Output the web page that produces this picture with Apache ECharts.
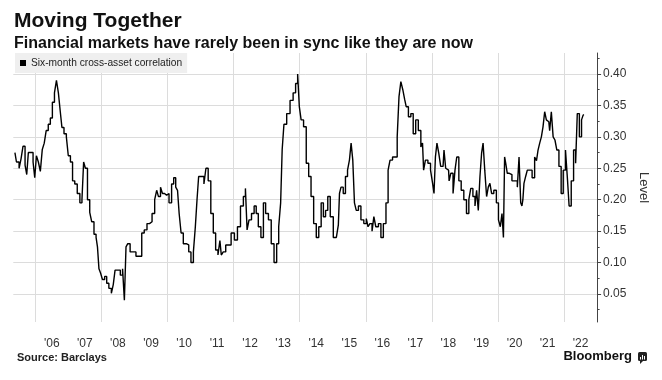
<!DOCTYPE html>
<html><head><meta charset="utf-8">
<script src="https://cdn.jsdelivr.net/npm/echarts@6/dist/echarts.min.js"></script>
<style>html,body{margin:0;padding:0;background:#fff}#c{width:662px;height:380px}</style>
</head><body><div id="c"></div>
<script>
const seriesName = 'Six-month cross-asset correlation';
const titleText = 'Moving Together';
const subtitleText = 'Financial markets have rarely been in sync like they are now';
const sourceText = 'Source: Barclays';
const yearLabels = ["'06","'07","'08","'09","'10","'11","'12","'13","'14","'15","'16","'17","'18","'19","'20","'21","'22"];
const firstLabelYear = 2006;
const yTicks = [0.05,0.10,0.15,0.20,0.25,0.30,0.35,0.40];
const yMinorTicks = [0.025,0.075,0.125,0.175,0.225,0.275,0.325,0.375,0.425];
const axisStart = [2005, 5], axisEnd = [2023, 1];

const dates = [
'2005-05-19','2005-06-22','2005-07-16','2005-08-04','2005-08-28','2005-09-19','2005-10-04','2005-10-25','2005-11-25','2005-12-16',
'2006-01-01','2006-01-22','2006-02-13','2006-03-07','2006-03-28','2006-04-19','2006-05-10','2006-06-04','2006-06-25','2006-07-19','2006-08-10','2006-09-01','2006-09-22','2006-10-13','2006-10-28','2006-11-28','2006-12-19',
'2007-01-10','2007-02-04','2007-02-26','2007-03-25','2007-04-22','2007-05-22','2007-06-07','2007-06-28','2007-07-16','2007-08-13','2007-09-04','2007-09-25','2007-10-25','2007-11-10','2007-11-25','2007-12-13',
'2008-01-01','2008-01-22','2008-02-19','2008-03-07','2008-04-07','2008-05-01','2008-05-19','2008-06-10','2008-07-13','2008-08-10','2008-09-01','2008-09-19','2008-10-07','2008-10-28','2008-11-28','2008-12-28',
'2009-02-04','2009-03-10','2009-04-01','2009-05-04','2009-06-01','2009-06-28','2009-07-28','2009-08-25','2009-09-10','2009-10-04','2009-10-25','2009-11-16','2009-12-10',
'2010-01-01','2010-02-01','2010-02-27','2010-03-19','2010-04-13','2010-04-28','2010-05-19','2010-06-10','2010-07-07','2010-08-13','2010-09-01','2010-10-01','2010-10-25','2010-11-13','2010-12-01','2010-12-19',
'2011-01-25','2011-02-19','2011-03-10','2011-04-10','2011-05-07','2011-06-04','2011-06-28','2011-07-25','2011-08-10','2011-08-25','2011-09-22','2011-10-19','2011-11-16','2011-12-22',
'2012-01-28','2012-02-27','2012-04-04','2012-05-01','2012-05-19','2012-06-07','2012-07-01','2012-08-01','2012-08-28','2012-09-16','2012-10-13','2012-11-13','2012-12-07',
'2013-01-01','2013-02-07','2013-03-04','2013-04-10','2013-05-01','2013-05-25','2013-06-13','2013-06-28','2013-07-22','2013-08-28','2013-10-04','2013-11-04','2013-11-28','2013-12-19',
'2014-01-04','2014-01-28','2014-02-27','2014-03-28','2014-04-22','2014-05-19','2014-06-19','2014-07-16','2014-08-13','2014-09-07','2014-10-01','2014-10-25','2014-11-19','2014-12-19',
'2015-01-25','2015-02-25','2015-03-10','2015-03-22','2015-04-13','2015-05-10','2015-06-01','2015-06-25','2015-07-13','2015-08-01','2015-08-19','2015-09-07','2015-09-28','2015-10-25','2015-11-22','2015-12-28',
'2016-01-16','2016-02-04','2016-02-27','2016-03-22','2016-04-07','2016-05-04','2016-06-04','2016-06-28','2016-07-28','2016-08-25','2016-09-13','2016-10-07','2016-11-07','2016-12-04','2016-12-22',
'2017-01-13','2017-02-01','2017-02-25','2017-03-13','2017-04-01','2017-05-01','2017-05-25','2017-06-22','2017-07-19','2017-08-19','2017-09-13','2017-09-25','2017-10-07','2017-11-04','2017-12-01',
'2018-01-01','2018-01-16','2018-02-01','2018-02-16','2018-03-07','2018-03-28','2018-04-19','2018-05-04','2018-05-25','2018-06-10','2018-07-04','2018-07-16','2018-08-10','2018-09-04','2018-09-22','2018-10-13','2018-11-07','2018-12-04',
'2019-01-04','2019-02-01','2019-02-25','2019-03-16','2019-04-13','2019-05-01','2019-05-19','2019-06-07','2019-06-25','2019-07-13','2019-07-28','2019-08-19','2019-09-07','2019-09-25','2019-10-13','2019-11-01','2019-12-01','2019-12-28',
'2020-01-16','2020-02-07','2020-02-22','2020-03-10','2020-03-19','2020-04-04','2020-04-22','2020-05-19','2020-06-19','2020-07-25','2020-08-10','2020-09-01','2020-09-16','2020-09-28','2020-10-07','2020-10-22','2020-11-13','2020-11-28','2020-12-28',
'2021-01-28','2021-02-22','2021-03-10','2021-03-28','2021-04-16','2021-05-04','2021-05-22','2021-06-10','2021-06-28','2021-07-16','2021-08-04','2021-08-22','2021-09-13','2021-10-01','2021-10-25','2021-11-16','2021-12-13',
'2022-01-01','2022-02-01','2022-02-16','2022-03-07','2022-04-04','2022-04-28','2022-05-19','2022-06-04','2022-07-04','2022-07-22','2022-08-10'
];
const values = [
.275,.26,.25,.265,.285,.255,.24,.275,.275,.26,
.235,.27,.26,.245,.28,.29,.31,.32,.33,.355,.37,.39,.37,.34,.315,.305,.30,
.27,.26,.23,.225,.21,.195,.20,.26,.25,.20,.18,.165,.145,.14,.125,.09,
.083,.073,.078,.067,.059,.051,.065,.088,.088,.08,.09,.04,.125,.13,.117,.117,
.11,.11,.147,.152,.162,.165,.178,.20,.215,.205,.22,.21,.207,
.21,.195,.225,.235,.22,.215,.178,.147,.13,.128,.117,.10,.117,.157,.20,.237,
.237,.225,.25,.23,.178,.147,.12,.112,.135,.112,.117,.128,.128,.147,
.136,.157,.19,.205,.218,.152,.168,.178,.19,.178,.157,.14,.195,
.178,.168,.13,.10,.13,.157,.195,.28,.32,.337,.358,.37,.385,.40,
.348,.327,.316,.258,.237,.205,.162,.14,.157,.195,.173,.183,.205,.173,
.14,.14,.16,.21,.22,.21,.237,.247,.263,.29,.263,.195,.183,.19,.168,.162,
.17,.157,.162,.15,.173,.157,.162,.14,.162,.195,.247,.263,.268,.268,.30,
.364,.388,.375,.36,.348,.332,.337,.305,.327,.31,.284,.29,.247,.263,.258,
.247,.226,.21,.268,.29,.274,.253,.253,.279,.25,.247,.23,.242,.21,.247,.268,.23,.215,
.20,.178,.20,.218,.205,.19,.215,.183,.237,.274,.29,.247,.205,.22,.226,.21,.215,.195,
.168,.157,.178,.14,.268,.258,.242,.24,.23,.23,.22,.268,.195,.19,.20,.226,.237,.247,.247,
.235,.268,.262,.279,.29,.30,.316,.34,.327,.324,.31,.34,.30,.295,.279,.253,.21,
.247,.279,.23,.19,.23,.279,.258,.337,.30,.327,.335
];

// monthly categories spanning the axis
const months = [];
for (let y = axisStart[0], m = axisStart[1]; y < axisEnd[0] || (y === axisEnd[0] && m <= axisEnd[1]); ) {
  months.push(y + '-' + String(m).padStart(2, '0'));
  m++; if (m > 12) { m = 1; y++; }
}
const pad2 = n => String(n).padStart(2, '0');
const tMin = axisStart[0] + '-' + pad2(axisStart[1]) + '-01';
const tMax = axisEnd[0] + '-' + pad2(axisEnd[1]) + '-01';

// layout
const L = 13.3, R = 662 - 597.1;
const plotTop = 53, plotBottom = 322;
const yA0 = 0, yA1 = 0.45;
const pxPerUnit = (294 - 74) / (0.40 - 0.05);
const gridATop = 74 - (yA1 - 0.40) * pxPerUnit;
const gridABottom = 294 + (0.05 - yA0) * pxPerUnit;
const yBMin = (gridABottom - plotBottom) / pxPerUnit;
const yBMax = yA1 - (plotTop - gridATop) / pxPerUnit;

const FONT = 'Liberation Sans, Arial, sans-serif';
const gridColor = '#dcdcdc';

const chart = echarts.init(document.getElementById('c'), null, {renderer: 'canvas'});
const splitColors = [];
for (let v = 0; v <= 9; v++) splitColors.push(v === 0 || v === 9 ? 'rgba(0,0,0,0)' : gridColor);

chart.setOption({
  animation: false,
  backgroundColor: '#fff',
  textStyle: {fontFamily: FONT},
  title: [
    {text: titleText, left: 14, top: 11, padding: 0, textStyle: {fontSize: 21, fontWeight: 'bold', color: '#111', fontFamily: FONT}},
    {text: subtitleText, left: 14, top: 36, padding: 0, textStyle: {fontSize: 16, fontWeight: 'bold', color: '#111', fontFamily: FONT}},
    {text: sourceText, left: 17, top: 352, padding: 0, textStyle: {fontSize: 11, fontWeight: 'bold', color: '#222', fontFamily: FONT}},
    {text: 'Bloomberg', right: 30, top: 350, padding: 0, textStyle: {fontSize: 13, fontWeight: 'bold', color: '#111', fontFamily: FONT}}
  ],
  legend: {
    data: [seriesName], left: 15, top: 53, icon: 'rect', itemWidth: 6, itemHeight: 6,
    backgroundColor: '#efefef', padding: [5, 5, 5, 5], selectedMode: false,
    textStyle: {fontSize: 10.2, color: '#222', fontFamily: FONT},
    itemStyle: {color: '#000'}
  },
  grid: [
    {left: L, right: R, top: gridATop, bottom: 380 - gridABottom},
    {left: L, right: R, top: plotTop, bottom: 380 - plotBottom}
  ],
  xAxis: [
    {type: 'time', gridIndex: 0, min: tMin, max: tMax, show: false},
    {type: 'category', gridIndex: 1, data: months, boundaryGap: false,
     axisLine: {show: false}, axisTick: {show: false},
     axisLabel: {
       interval: (i, v) => v.endsWith('-07') && (+v.slice(0, 4)) >= firstLabelYear && (+v.slice(0, 4)) < firstLabelYear + yearLabels.length,
       formatter: v => yearLabels[(+v.slice(0, 4)) - firstLabelYear],
       margin: 16, fontSize: 12, color: '#333', fontFamily: FONT
     },
     splitLine: {show: true, interval: (i, v) => v.endsWith('-01') && (+v.slice(0, 4)) % 2 === 0,
                 lineStyle: {color: gridColor, width: 1}}
    }
  ],
  yAxis: [
    {type: 'value', gridIndex: 0, position: 'right', min: yA0, max: yA1, interval: 0.05,
     axisLine: {show: false}, axisTick: {show: false},
     axisLabel: {formatter: v => (v < 0.01 || v > 0.44) ? '' : v.toFixed(2), margin: 6, fontSize: 12, color: '#333', fontFamily: FONT},
     splitLine: {show: true, lineStyle: {color: splitColors, width: 1}}
    },
    {type: 'value', gridIndex: 1, position: 'right', min: yBMin, max: yBMax,
     axisLine: {show: true, lineStyle: {color: '#444', width: 1}},
     axisTick: {show: true, customValues: yTicks, length: 4, inside: false, lineStyle: {color: '#444'}},
     axisLabel: {show: false}, splitLine: {show: false},
     name: 'Level', nameLocation: 'middle', nameGap: 40, nameRotate: -90,
     nameTextStyle: {fontSize: 13, color: '#333', fontFamily: FONT}
    },
    {type: 'value', gridIndex: 1, position: 'right', min: yBMin, max: yBMax,
     axisLine: {show: false},
     axisTick: {show: true, customValues: yMinorTicks, length: 2.5, inside: false, lineStyle: {color: '#444'}},
     axisLabel: {show: false}, splitLine: {show: false}
    }
  ],
  series: [{
    name: seriesName, type: 'line', xAxisIndex: 0, yAxisIndex: 0,
    data: dates.map((d, i) => [d, values[i]]),
    showSymbol: false, symbol: 'none', step: 'middle',
    lineStyle: {color: '#000', width: 1.4},
    itemStyle: {color: '#000'}
  }],
  graphic: [
    {type: 'rect', left: 638, top: 352, shape: {width: 9, height: 9, r: 1.5}, style: {fill: '#222'}},
    {type: 'polygon', shape: {points: [[640, 361], [643, 361], [640, 364]]}, style: {fill: '#222'}},
    {type: 'rect', left: 640, top: 357, shape: {width: 1, height: 2.5}, style: {fill: '#fff'}},
    {type: 'rect', left: 642, top: 355, shape: {width: 1, height: 4.5}, style: {fill: '#fff'}},
    {type: 'rect', left: 644, top: 356, shape: {width: 1, height: 3.5}, style: {fill: '#fff'}}
  ]
});
</script>
</body></html>
